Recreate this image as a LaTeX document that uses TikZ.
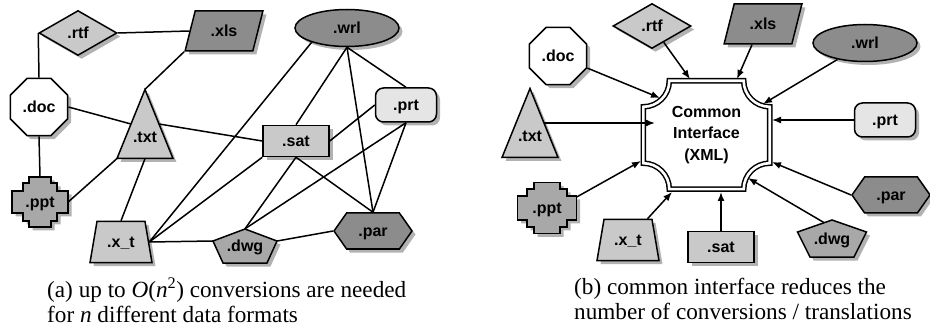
\documentclass[tikz,border=0pt]{standalone}
\usepackage{fontspec}
\setmainfont{Liberation Serif}
\newfontfamily\labelfont{Liberation Sans}
\usetikzlibrary{shapes.geometric, shapes.symbols, shadows, arrows.meta, backgrounds}
\definecolor{fillpale}{gray}{0.9}
\definecolor{filllight}{gray}{0.79}
\definecolor{fillmid}{gray}{0.66}
\definecolor{filldark}{gray}{0.55}

\begin{document}
\begin{tikzpicture}[x=1pt, y=-1pt, every node/.style={font=\labelfont\bfseries\fontsize{16}{19}\selectfont}]
  \tikzstyle{outline} = [draw, line width=1.5pt, drop shadow={shadow xshift=3.5pt, shadow yshift=-3.5pt, fill=black, opacity=0.3}]
  \tikzstyle{fmt} = [outline, inner sep=0pt, text height=11pt, text depth=0pt]
  \tikzstyle{octa} = [fmt, regular polygon, regular polygon sides=8, minimum size=62pt, fill=white]
  \tikzstyle{diam} = [fmt, diamond, minimum width=78pt, minimum height=45pt, fill=filllight]
  \tikzstyle{para} = [fmt, trapezium, trapezium left angle=67, trapezium right angle=113, trapezium stretches, minimum width=78pt, minimum height=40pt, fill=filldark]
  \tikzstyle{oval} = [fmt, ellipse, minimum width=104pt, minimum height=37pt, fill=filldark]
  \tikzstyle{box} = [fmt, rectangle, minimum width=66pt, minimum height=31pt, fill=filllight]
  \tikzstyle{rbox} = [fmt, rectangle, rounded corners=8pt, minimum width=61pt, minimum height=34pt, fill=fillpale]
  \tikzstyle{trap} = [fmt, trapezium, trapezium left angle=70, trapezium right angle=70, trapezium stretches, minimum width=62pt, minimum height=41pt, fill=filllight]
  \tikzstyle{hexa} = [fmt, signal, signal to=west and east, signal pointer angle=110, minimum width=78pt, minimum height=36pt, fill=filldark]
  \tikzstyle{blank} = [rectangle, inner sep=0pt, text height=11pt, text depth=0pt]
  \tikzstyle{link} = [line width=1.5pt]
  \tikzstyle{feed} = [link, -{Latex[length=9pt, width=7pt]}]
  \tikzstyle{caption} = [font=\fontsize{23.2}{24.5}\selectfont, align=left, inner sep=0pt, anchor=north west]

  \useasboundingbox (0,0) rectangle (930,326);

  % (a) every format talks to every other one
  \node[diam] (a-rtf) at (78,33) {.rtf};
  \node[para] (a-xls) at (224,31) {.xls};
  \node[oval] (a-wrl) at (347,28) {.wrl};
  \node[octa] (a-doc) at (39,107) {.doc};
  \node[blank, minimum width=56pt, minimum height=69pt, text height=37pt] (a-txt) at (145,124) {.txt};
  \node[box] (a-sat) at (296,141) {.sat};
  \node[rbox] (a-prt) at (406,105) {.prt};
  \node[blank, minimum width=56pt, minimum height=50pt] (a-ppt) at (40,202) {.ppt};
  \node[trap] (a-xt) at (121,242) {.x\_t};
  \node[blank, minimum width=64pt, minimum height=34pt] (a-dwg) at (245,246) {.dwg};
  \node[hexa] (a-par) at (373,231) {.par};

  \draw[link] (a-rtf.east) -- (a-xls.west);
  \draw[link] (a-rtf.west) -- (a-doc.north);
  \draw[link] (a-doc.south) -- (a-ppt.north);
  \draw[link] (a-doc.east) -- ([xshift=-14pt]a-txt.center);
  \draw[link] ([xshift=14pt]a-txt.center) -- (a-sat.west);
  \draw[link] (a-xls.bottom left corner) -- (a-txt.north);
  \draw[link] (a-txt.south west) -- (a-ppt.east);
  \draw[link] (a-txt.south) -- (a-xt.north);
  \draw[link] (a-xt.east) -- (a-wrl.202);
  \draw[link] (a-xt.east) -- (a-sat.south west);
  \draw[link] (a-xt.east) -- ([yshift=5pt]a-dwg.west);
  \draw[link] (a-dwg.north) -- (a-sat.south);
  \draw[link] (a-dwg.north) -- (a-prt.south);
  \draw[link] ([yshift=5pt]a-dwg.east) -- (a-par.west);
  \draw[link] (a-sat.south) -- (a-par.north);
  \draw[link] (a-sat.north) -- (a-wrl.south);
  \draw[link] (a-sat.east) -- (a-prt.west);
  \draw[link] (a-wrl.south) -- (a-par.north);
  \draw[link] (a-wrl.south) -- (a-prt.north);
  \draw[link] (a-prt.south) -- (a-par.north);

  % (b) every format talks to the common interface only
  \node[diam] (b-rtf) at (652,26) {.rtf};
  \node[para] (b-xls) at (763,24) {.xls};
  \node[oval] (b-wrl) at (865,43) {.wrl};
  \node[octa] (b-doc) at (558,56) {.doc};
  \node[blank, minimum width=56pt, minimum height=69pt, text height=37pt] (b-txt) at (530,123) {.txt};
  \node[rbox] (b-prt) at (885,120) {.prt};
  \node[blank, minimum width=59pt, minimum height=51pt] (b-ppt) at (547,208) {.ppt};
  \node[trap] (b-xt) at (628,240) {.x\_t};
  \node[box] (b-sat) at (721,247) {.sat};
  \node[blank, minimum width=69pt, minimum height=37pt] (b-dwg) at (832,238.5) {.dwg};
  \node[hexa] (b-par) at (891,195) {.par};

  \node[rectangle, minimum width=126pt, minimum height=108pt, align=center,
        font=\labelfont\bfseries\fontsize{16}{21.5}\selectfont] (xml) at (706.5,135) {Common\\Interface\\(XML)};
  \draw[line width=1.5pt, double=white, double distance=2.6pt]
    ([xshift=26pt]xml.north west) -- ([xshift=-26pt]xml.north east)
    arc[start angle=180, end angle=270, radius=26pt] -- ([yshift=26pt]xml.south east)
    arc[start angle=90, end angle=180, radius=26pt] -- ([xshift=26pt]xml.south west)
    arc[start angle=0, end angle=90, radius=26pt] -- ([yshift=-26pt]xml.north west)
    arc[start angle=270, end angle=360, radius=26pt] -- cycle;

  \coordinate (to-doc) at (660,98);
  \coordinate (to-rtf) at (690,79);
  \coordinate (to-xls) at (737,79);
  \coordinate (to-wrl) at (763,104);
  \coordinate (to-txt) at (641,125);
  \coordinate (to-prt) at (772,120);
  \coordinate (to-ppt) at (641,161);
  \coordinate (to-xt) at (672,192);
  \coordinate (to-sat) at (722,192);
  \coordinate (to-dwg) at (748,178);
  \coordinate (to-par) at (772,162);

  \draw[feed] (b-doc) -- (to-doc);
  \draw[feed] (b-rtf) -- (to-rtf);
  \draw[feed] ([xshift=-11pt]b-xls.south) -- (to-xls);
  \draw[feed] (b-wrl) -- (to-wrl);
  \draw[feed] ([xshift=14pt]b-txt.center) -- ([xshift=14pt]b-txt.center -| to-txt);
  \draw[feed] (b-prt.west) -- (b-prt.west -| to-prt);
  \draw[feed] ([yshift=11pt]b-ppt.east) -- (to-ppt);
  \draw[feed] (b-xt) -- (to-xt);
  \draw[feed] (b-sat.north) -- (b-sat.north |- to-sat);
  \draw[feed] ([xshift=-8pt, yshift=-2.8pt]b-dwg.north) -- (to-dwg);
  \draw[feed] (b-par.west) -- (to-par);

  % drawn outlines go behind their labels
  \begin{scope}[on background layer]
    \filldraw[outline, fill=filllight, shift={(a-txt.center)}] (0,-34.5) -- (28,34.5) -- (-28,34.5) -- cycle;
    \filldraw[outline, fill=filllight, shift={(b-txt.center)}] (0,-34.5) -- (28,34.5) -- (-28,34.5) -- cycle;
    \filldraw[outline, fill=fillmid, shift={(a-ppt.center)}] (-11,-25) -- (11,-25) -- (11,-19) -- (17,-19) -- (17,-11) -- (28,-11) -- (28,11) -- (17,11) -- (17,19) -- (11,19) -- (11,25) -- (-11,25) -- (-11,19) -- (-17,19) -- (-17,11) -- (-28,11) -- (-28,-11) -- (-17,-11) -- (-17,-19) -- (-11,-19) -- cycle;
    \filldraw[outline, fill=fillmid, shift={(b-ppt.center)}] (-13,-25.5) -- (13,-25.5) -- (13,-19) -- (20,-19) -- (20,-12) -- (29.5,-12) -- (29.5,12) -- (20,12) -- (20,19) -- (13,19) -- (13,25.5) -- (-13,25.5) -- (-13,19) -- (-20,19) -- (-20,12) -- (-29.5,12) -- (-29.5,-12) -- (-20,-12) -- (-20,-19) -- (-13,-19) -- cycle;
    \filldraw[outline, fill=fillmid, shift={(a-dwg.center)}] (0,-17) -- (32,-5) -- (22,17) -- (-22,17) -- (-32,-5) -- cycle;
    \filldraw[outline, fill=fillmid, shift={(b-dwg.center)}] (0,-18.5) -- (34.5,-6.5) -- (22,18.5) -- (-22,18.5) -- (-34.5,-6.5) -- cycle;
  \end{scope}

  \node[caption] (cap-a) at (47,278) {(a) up to \textit{O}(\textit{n}\textsuperscript{2}) conversions are needed\\for \textit{n} different data formats};
  \node[caption] (cap-b) at (574,278) {(b) common interface reduces the\\number of conversions / translations};
\end{tikzpicture}
\end{document}
